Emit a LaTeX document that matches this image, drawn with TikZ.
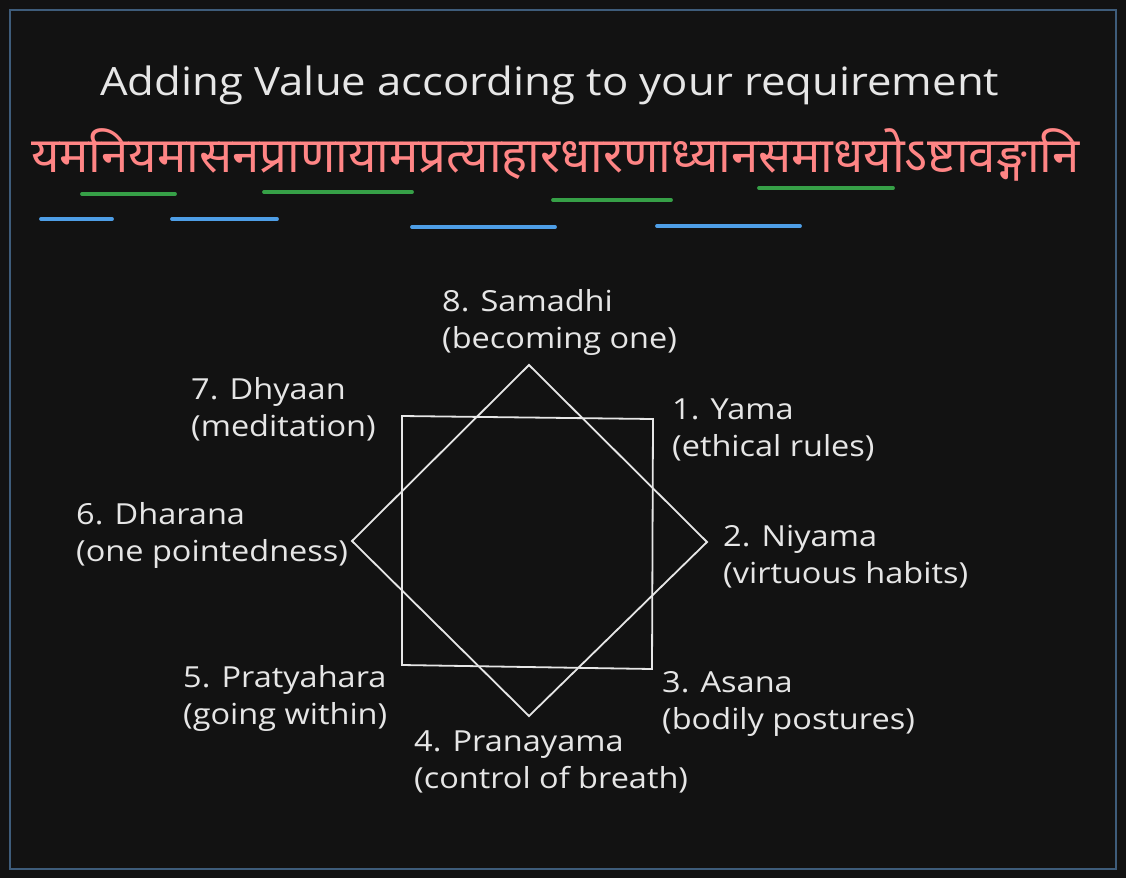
\documentclass[tikz,border=0pt]{standalone}
\usepackage{fontspec}
\setmainfont[FakeStretch=1.12]{Open Sans}
\newfontfamily\deva[Script=Devanagari]{Noto Sans}
\definecolor{bg}{HTML}{121212}
\definecolor{frame}{HTML}{3E5C7A}
\definecolor{ink}{HTML}{E6E6E6}
\definecolor{salmon}{HTML}{FF8585}
\definecolor{ugreen}{HTML}{36A047}
\definecolor{ublue}{HTML}{4E9EE6}
\tikzset{
  lbl/.style={anchor=base west, align=left, text=ink, inner sep=0pt,
    font=\fontsize{29}{37}\selectfont},
  outline/.style={draw=ink, line width=1.8pt, line join=miter},
  gline/.style={draw=ugreen, line width=3.8pt, line cap=round},
  bline/.style={draw=ublue, line width=3.8pt, line cap=round},
}
\begin{document}
\begin{tikzpicture}[x=1pt,y=-1pt]
\fill[bg] (0,0) rectangle (1126,878);
\useasboundingbox (0,0) rectangle (1126,878);
\draw[frame, line width=1.8pt] (10,10) rectangle (1116,869);
% title
\node[anchor=base west, text=ink, inner sep=0pt, font=\fontsize{39}{48}\selectfont] (title) at (100,95) {Adding Value according to your requirement};
% sanskrit
\node[anchor=base west, text=salmon, inner sep=0pt, font=\deva\fontsize{49}{56}\selectfont] (sutra) at (31,172) {यमनियमासनप्राणायामप्रत्याहारधारणाध्यानसमाधयोऽष्टावङ्गानि};
% underlines
\draw[gline] (82,194) -- (175,194);
\draw[gline] (264,192) -- (412,192);
\draw[gline] (553,200) -- (671,200);
\draw[gline] (759,188) -- (893,188);
\draw[bline] (41,219) -- (112,219);
\draw[bline] (172,219) -- (277,219);
\draw[bline] (412,227) -- (555,227);
\draw[bline] (657,226) -- (800,226);
% square and diamond
\draw[outline] (402,416) -- (653,419) -- (652,669) -- (402,665) -- cycle;
\draw[outline] (529,365) -- (707,542) -- (529,716) -- (352,541) -- cycle;
% labels (anchor = baseline of second line)
\node[lbl] (l8) at (442,348) {8. Samadhi\\(becoming one)};
\node[lbl] (l7) at (191,436) {7. Dhyaan\\(meditation)};
\node[lbl] (l1) at (672,456) {1. Yama\\(ethical rules)};
\node[lbl] (l6) at (76,561) {6. Dharana\\(one pointedness)};
\node[lbl] (l2) at (723,583) {2. Niyama\\(virtuous habits)};
\node[lbl] (l5) at (183,724) {5. Pratyahara\\(going within)};
\node[lbl] (l3) at (662,729) {3. Asana\\(bodily postures)};
\node[lbl] (l4) at (414,788) {4. Pranayama\\(control of breath)};
\end{tikzpicture}
\end{document}
